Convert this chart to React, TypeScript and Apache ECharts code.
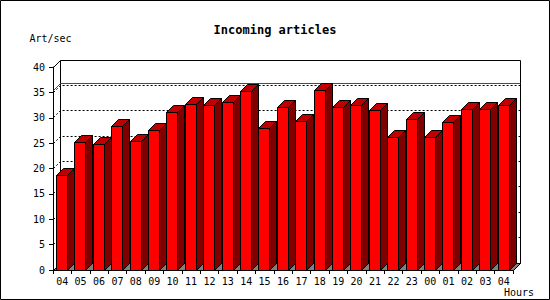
import React, { useEffect, useRef } from "react";
import * as echarts from "echarts";

const hours = ["04", "05", "06", "07", "08", "09", "10", "11", "12", "13", "14", "15", "16", "17", "18", "19", "20", "21", "22", "23", "00", "01", "02", "03", "04"];
const articlesPerSec = [18.7, 25.2, 24.8, 28.3, 25.4, 27.4, 31.1, 32.7, 32.5, 33.1, 35.2, 27.9, 32.1, 29.3, 35.4, 32.1, 32.5, 31.5, 26.2, 29.7, 26.2, 29.1, 31.7, 31.7, 32.5];
const yTicks = [0, 5, 10, 15, 20, 25, 30, 35, 40];
const titleText = "Incoming articles";
const yName = "Art/sec";
const xName = "Hours";

const FONT = "'DejaVu Sans Mono', 'Liberation Mono', monospace";
const DEPTH = 7;
const crisp = (v: number) => Math.floor(v) + 0.5;
const maxVal = Math.max(...articlesPerSec);

function renderFrame(params: any, api: any) {
  const cs = params.coordSys;
  const x0 = crisp(cs.x);
  const x1 = crisp(cs.x + cs.width);
  const yt = crisp(cs.y);
  const yb = crisp(cs.y + cs.height);
  const D = DEPTH;
  const children: any[] = [];
  children.push({
    type: "rect",
    shape: { x: x0 + D, y: yt - D, width: x1 - x0, height: yb - yt },
    style: { fill: "#ffffff", stroke: "#000000", lineWidth: 1 },
  });
  const topTick = yTicks[yTicks.length - 1];
  yTicks.forEach((t) => {
    if (t === yTicks[0]) return;
    const y = crisp(api.coord([0, t])[1]);
    if (t === topTick) {
      children.push({
        type: "line",
        shape: { x1: x0, y1: y, x2: x0 + D, y2: y - D },
        style: { stroke: "#000000", lineWidth: 1 },
      });
    } else {
      children.push({
        type: "polyline",
        shape: { points: [[x0, y], [x0 + D, y - D], [x1 + D, y - D]] },
        style: { fill: null, stroke: "#000000", lineWidth: 1, lineDash: [2, 2] },
      });
    }
  });
  children.push({
    type: "polygon",
    shape: { points: [[x0, yb], [x1, yb], [x1 + D, yb - D], [x0 + D, yb - D]] },
    style: { fill: "#808080", stroke: "#000000", lineWidth: 1 },
  });
  const ym = crisp(api.coord([0, maxVal])[1]);
  children.push({
    type: "polyline",
    shape: { points: [[x0, ym], [x0 + D, ym - D], [x1 + D, ym - D]] },
    style: { fill: null, stroke: "#ff0000", lineWidth: 1 },
  });
  return { type: "group", children };
}

function renderBar(params: any, api: any) {
  const i = api.value(0);
  const v = api.value(1);
  const base = api.coord([i, 0]);
  const top = api.coord([i, v]);
  const bw = api.size([1, 0])[0];
  const D = DEPTH;
  const l = crisp(base[0] - bw * 0.31);
  const r = l + Math.round(bw * 0.6);
  const ty = crisp(top[1]);
  const by = crisp(base[1]);
  return {
    type: "group",
    children: [
      {
        type: "polygon",
        shape: { points: [[r, ty], [r + D, ty - D], [r + D, by - D], [r, by]] },
        style: { fill: "#800000", stroke: "#000000", lineWidth: 1 },
      },
      {
        type: "polygon",
        shape: { points: [[l, ty], [r, ty], [r + D, ty - D], [l + D, ty - D]] },
        style: { fill: "#c00000", stroke: "#000000", lineWidth: 1 },
      },
      {
        type: "rect",
        shape: { x: l, y: ty, width: r - l, height: by - ty },
        style: { fill: "#ff0000", stroke: "#000000", lineWidth: 1 },
      },
    ],
  };
}

export default function App() {
  const ref = useRef<HTMLDivElement>(null);
  useEffect(() => {
    if (!ref.current) return;
    const chart = echarts.init(ref.current, undefined, { renderer: "svg" });
    chart.setOption({
      animation: false,
      backgroundColor: "#ffffff",
      title: {
        text: titleText,
        left: "center",
        top: 19,
        textStyle: { fontFamily: FONT, fontSize: 12, fontWeight: "bold", color: "#000000" },
      },
      graphic: [
        {
          type: "rect",
          shape: { x: 0.5, y: 0.5, width: 549, height: 299 },
          style: { fill: "none", stroke: "#000000", lineWidth: 1 },
          silent: true,
        },
        {
          type: "text",
          left: 504,
          top: 287,
          style: { text: xName, fontFamily: FONT, fontSize: 10, fill: "#000000" },
        },
      ],
      grid: { left: 53, right: 37, top: 67, bottom: 30, containLabel: false },
      xAxis: {
        type: "category",
        data: hours,
        boundaryGap: true,
        axisLine: { show: true, lineStyle: { color: "#000000", width: 1 } },
        axisTick: { show: true, length: 4, interval: 0, lineStyle: { color: "#000000" } },
        axisLabel: { interval: 0, margin: 6, fontFamily: FONT, fontSize: 10, color: "#000000" },
        splitLine: { show: false },
      },
      yAxis: {
        type: "value",
        min: 0,
        max: 40,
        interval: 5,
        name: yName,
        nameLocation: "end",
        nameGap: 24,
        nameTextStyle: { fontFamily: FONT, fontSize: 10, color: "#000000", padding: [0, 5, 0, 0] },
        axisLine: { show: true, lineStyle: { color: "#000000", width: 1 } },
        axisTick: { show: true, length: 4, lineStyle: { color: "#000000" } },
        axisLabel: { margin: 8, fontFamily: FONT, fontSize: 10, color: "#000000" },
        splitLine: { show: false },
      },
      series: [
        {
          type: "custom",
          name: "frame",
          z: 1,
          silent: true,
          renderItem: renderFrame,
          data: [[0, 0]],
          encode: { x: 0, y: 1 },
        },
        {
          type: "custom",
          name: "Incoming articles",
          z: 2,
          renderItem: renderBar,
          data: articlesPerSec.map((v, i) => [i, v]),
          encode: { x: 0, y: 1 },
        },
      ],
    });
    return () => chart.dispose();
  }, []);
  return (
    <div
      ref={ref}
      style={{ position: "absolute", left: 0, top: 0, width: 550, height: 300, background: "#ffffff" }}
    />
  );
}
